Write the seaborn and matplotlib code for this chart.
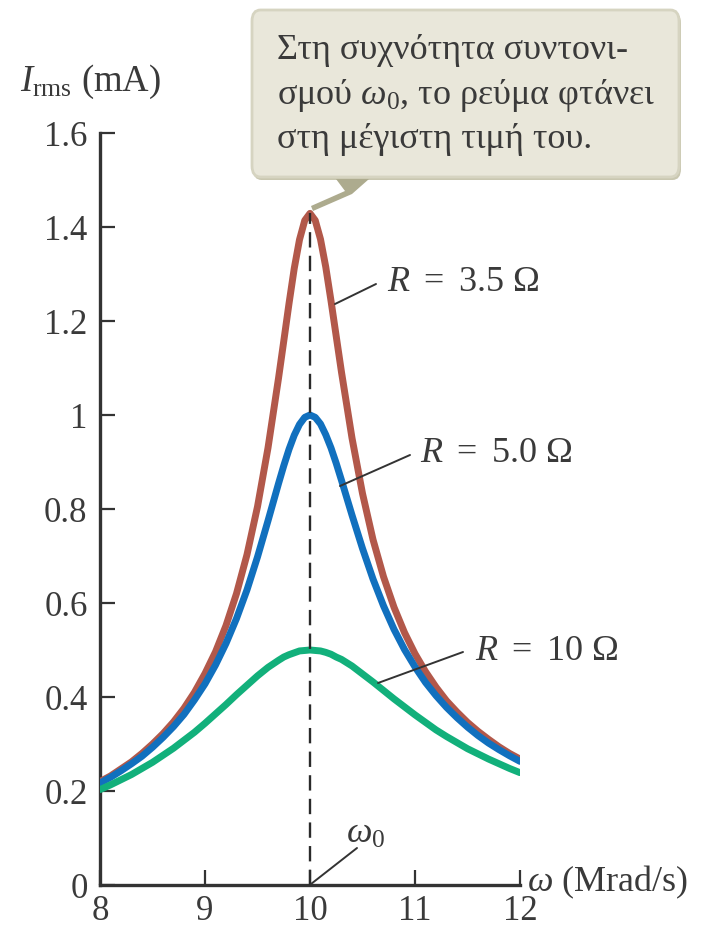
import numpy as np
import pandas as pd
import matplotlib
matplotlib.use("Agg")
import matplotlib.pyplot as plt
import seaborn as sns
from matplotlib.patches import FancyBboxPatch, Polygon
from matplotlib.lines import Line2D

# ---- data ----
omega = [8.0, 8.1, 8.2, 8.3, 8.4, 8.5, 8.6, 8.7, 8.8, 8.9,
         9.0, 9.1, 9.2, 9.3, 9.4, 9.5, 9.6, 9.7, 9.75, 9.8, 9.85, 9.9, 9.95,
         10.0, 10.05, 10.1, 10.15, 10.2, 10.25, 10.3, 10.4, 10.5, 10.6, 10.7, 10.8, 10.9,
         11.0, 11.1, 11.2, 11.3, 11.4, 11.5, 11.6, 11.7, 11.8, 11.9, 12.0]
i_r35 = [0.220, 0.232, 0.247, 0.262, 0.280, 0.300, 0.322, 0.347, 0.376, 0.410,
         0.450, 0.496, 0.552, 0.620, 0.703, 0.805, 0.930, 1.078, 1.157, 1.237, 1.312, 1.373, 1.414,
         1.429, 1.414, 1.374, 1.315, 1.243, 1.167, 1.091, 0.951, 0.833, 0.735, 0.656, 0.591, 0.537,
         0.492, 0.454, 0.421, 0.392, 0.368, 0.346, 0.327, 0.310, 0.294, 0.280, 0.268]
i_r50 = [0.217, 0.229, 0.243, 0.258, 0.274, 0.293, 0.314, 0.337, 0.363, 0.394,
         0.428, 0.468, 0.514, 0.567, 0.628, 0.698, 0.775, 0.854, 0.892, 0.927, 0.957, 0.980, 0.995,
         1.000, 0.995, 0.981, 0.958, 0.930, 0.897, 0.861, 0.787, 0.716, 0.651, 0.594, 0.544, 0.501,
         0.464, 0.431, 0.403, 0.378, 0.356, 0.336, 0.318, 0.302, 0.288, 0.275, 0.263]
i_r10 = [0.203, 0.213, 0.224, 0.235, 0.248, 0.261, 0.276, 0.291, 0.308, 0.325,
         0.344, 0.364, 0.384, 0.405, 0.425, 0.445, 0.463, 0.478, 0.485, 0.490, 0.494, 0.498, 0.499,
         0.500, 0.499, 0.498, 0.495, 0.491, 0.485, 0.480, 0.466, 0.449, 0.432, 0.414, 0.396, 0.379,
         0.362, 0.346, 0.330, 0.316, 0.303, 0.290, 0.279, 0.268, 0.258, 0.248, 0.239]
series_names = ["R = 3.5 Ω", "R = 5.0 Ω", "R = 10 Ω"]
series_labels = [r"$R$ $=$ 3.5 Ω", r"$R$ $=$ 5.0 Ω", r"$R$ $=$ 10 Ω"]
x_ticks = [8, 9, 10, 11, 12]
y_ticks = [0, 0.2, 0.4, 0.6, 0.8, 1.0, 1.2, 1.4, 1.6]
y_ticklabels = ["0", "0.2", "0.4", "0.6", "0.8", "1", "1.2", "1.4", "1.6"]
omega0 = 10.0
callout_text = "Στη συχνότητα συντονι-\nσμού $\\omega_0$, το ρεύμα φτάνει\nστη μέγιστη τιμή του."

df = pd.DataFrame({
    "omega": omega * 3,
    "I": i_r35 + i_r50 + i_r10,
    "R": [series_names[0]] * len(omega) + [series_names[1]] * len(omega) + [series_names[2]] * len(omega),
})

sns.set_theme(style="white")
plt.rcParams["font.family"] = ["Liberation Serif", "DejaVu Serif"]
plt.rcParams["mathtext.fontset"] = "custom"
plt.rcParams["mathtext.rm"] = "Liberation Serif"
plt.rcParams["mathtext.it"] = "Liberation Serif:italic"

TXT = "#3a3a3a"
palette = {series_names[0]: "#b2584a", series_names[1]: "#1170be", series_names[2]: "#12b07b"}

W, H = 706, 933
fig = plt.figure(figsize=(W / 100, H / 100), dpi=100)
x0, x1, y0, y1 = 100, 520, 885, 133
ax = fig.add_axes([x0 / W, 1 - y0 / H, (x1 - x0) / W, (y0 - y1) / H])

sns.lineplot(data=df, x="omega", y="I", hue="R", palette=palette, lw=5.0,
             ax=ax, legend=False, sort=True, zorder=3)
for ln in ax.lines:
    ln.set_solid_capstyle("round")
    ln.set_solid_joinstyle("round")

# dashed resonance line (on top of curves)
ax.plot([omega0, omega0], [0, max(i_r35)], ls=(0, (6.5, 3.5)), color="#2a2a2a", lw=1.7, zorder=4)

ax.set_xlim(8, 12)
ax.set_ylim(0, 1.6)
ax.set_xlabel("")
ax.set_ylabel("")
ax.set_xticks(x_ticks)
ax.set_xticklabels([str(t) for t in x_ticks])
ax.set_yticks(y_ticks)
ax.set_yticklabels(y_ticklabels)
for s in ["top", "right"]:
    ax.spines[s].set_visible(False)
for s in ["left", "bottom"]:
    ax.spines[s].set_linewidth(2.4)
    ax.spines[s].set_color("#333333")
ax.tick_params(bottom=True, left=True, direction="in", length=11, width=1.6, color="#333333",
               labelsize=25, labelcolor=TXT)
ax.tick_params(axis="x", pad=7)
ax.tick_params(axis="y", pad=9)
ax.patch.set_alpha(0)

# axis labels
fig.text(20 / W, 1 - 82 / H, r"$I_{\rm rms}$ (mA)", fontsize=26.5, color=TXT, va="center", ha="left")
fig.text(527 / W, 1 - 882 / H, r"$\omega$ (Mrad/s)", fontsize=26, color=TXT, va="center", ha="left")

# series labels with leader lines
def leader(xa, ya, xb, yb):
    fig.add_artist(Line2D([xa / W, xb / W], [1 - ya / H, 1 - yb / H], color="#333333", lw=1.4,
                          transform=fig.transFigure, zorder=5))

leader(335, 304, 376, 284)
fig.text(387 / W, 1 - 283 / H, series_labels[0], fontsize=26, color=TXT, va="center")
leader(340, 486, 410, 455)
fig.text(420 / W, 1 - 454 / H, series_labels[1], fontsize=26, color=TXT, va="center")
leader(378, 683, 463, 652)
fig.text(475 / W, 1 - 651 / H, series_labels[2], fontsize=26, color=TXT, va="center")

# omega_0 label
leader(311, 884, 357, 848)
fig.text(346 / W, 1 - 834 / H, r"$\omega_0$", fontsize=26, color=TXT, va="center")

# callout box (shadow + body)
shadow = FancyBboxPatch((253 / W, 1 - 180 / H), (680 - 252) / W, (178 - 10) / H,
                        boxstyle="round,pad=0,rounding_size=0.012", transform=fig.transFigure,
                        facecolor="#c9c7b0", edgecolor="none", zorder=3)
fig.add_artist(shadow)
box = FancyBboxPatch((252 / W, 1 - 177 / H), (679 - 252) / W, (177 - 10) / H,
                     boxstyle="round,pad=0,rounding_size=0.012", transform=fig.transFigure,
                     facecolor="#e9e7da", edgecolor="#d6d4c1", lw=2.0, zorder=4)
fig.add_artist(box)
tail = Polygon([(336 / W, 1 - 179 / H), (369 / W, 1 - 179 / H), (352 / W, 1 - 194 / H),
                (313 / W, 1 - 211 / H), (311 / W, 1 - 206 / H), (345 / W, 1 - 191 / H)],
               closed=True, transform=fig.transFigure, facecolor="#adab8e", edgecolor="none", zorder=4)
fig.add_artist(tail)
fig.text(277 / W, 1 - 95 / H, callout_text, fontsize=26, color=TXT, va="center", ha="left",
         linespacing=1.38, zorder=6)

fig.savefig("out.png", dpi=100)
